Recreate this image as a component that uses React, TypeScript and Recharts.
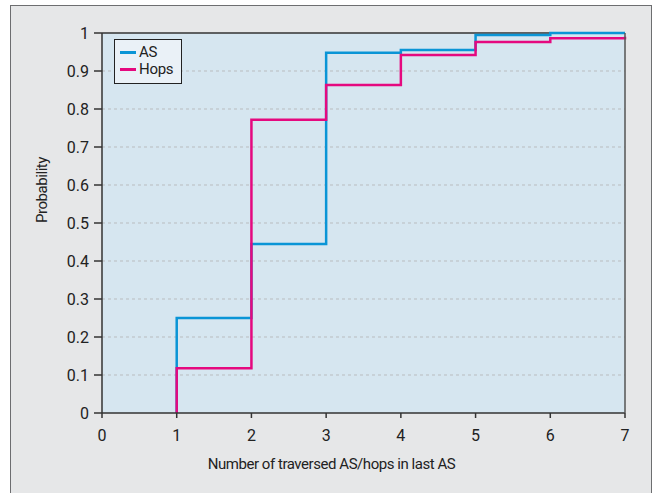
import { LineChart, Line, XAxis, YAxis, CartesianGrid, ReferenceLine } from "recharts"

// step points: x = number of traversed AS / hops, y = cumulative probability
const xSteps = [1, 1, 2, 3, 4, 5, 6, 7]
const asValues = [0, 0.25, 0.445, 0.948, 0.955, 0.995, 1.0, 1.0]
const hopsValues = [0, 0.118, 0.772, 0.863, 0.942, 0.976, 0.986, 0.99]

const xTicks = [0, 1, 2, 3, 4, 5, 6, 7]
const yTicks = [0, 0.1, 0.2, 0.3, 0.4, 0.5, 0.6, 0.7, 0.8, 0.9, 1]

const seriesNames = ["AS", "Hops"]
const seriesColors = ["#0a95d6", "#e5097f"]

const chartData = xSteps.map((x, i) => ({ x, as: asValues[i], hops: hopsValues[i] }))

const font = "Roboto, sans-serif"
const tickStyle = { fill: "#222", fontSize: 16, fontFamily: font }
const labelStyle = { fill: "#222", fontSize: 15, fontFamily: font, letterSpacing: -0.45 }

function LegendBox() {
  return (
    <div
      style={{
        position: "absolute",
        left: 114,
        top: 39,
        width: 68,
        height: 45,
        boxSizing: "border-box",
        background: "#eaf1f7",
        border: "1px solid #222",
        padding: "4px 4px 4px 5px",
        fontFamily: font,
        fontSize: 15,
        letterSpacing: -0.3,
        color: "#222",
        lineHeight: "17px",
      }}
    >
      {seriesNames.map((n, i) => (
        <div key={n} style={{ display: "flex", alignItems: "center", height: 17 }}>
          <span style={{ display: "inline-block", width: 16, height: 3, background: seriesColors[i], marginRight: 3 }} />
          {n}
        </div>
      ))}
    </div>
  )
}

export default function App() {
  return (
    <div style={{ position: "absolute", left: 0, top: 0, width: 659, height: 493, background: "#fff", overflow: "hidden" }}>
      <div
        style={{
          position: "absolute",
          left: 10,
          top: 5,
          width: 640,
          height: 520,
          background: "#e6e7e8",
          border: "1.5px solid #6d6e70",
        }}
      />
      <div style={{ position: "absolute", left: 0, top: 0 }}>
        <LineChart width={659} height={493} data={chartData} margin={{ top: 33, right: 33, bottom: 50, left: 62 }}>
          <CartesianGrid
            vertical={false}
            fill="#d6e6f0"
            stroke="#b9bcbf"
            strokeDasharray="3 3"
            strokeWidth={1}
            horizontalValues={[0.1, 0.2, 0.3, 0.4, 0.5, 0.6, 0.7, 0.8, 0.9]}
          />
          <XAxis
            dataKey="x"
            type="number"
            domain={[0, 7]}
            ticks={xTicks}
            allowDecimals={false}
            height={30}
            stroke="#333"
            strokeWidth={1.5}
            tickSize={5}
            tickMargin={12}
            tick={tickStyle}
            label={{ value: "Number of traversed AS/hops in last AS", position: "insideBottom", offset: -26, dx: -32, ...labelStyle }}
          />
          <YAxis
            type="number"
            domain={[0, 1]}
            ticks={yTicks}
            width={40}
            stroke="#333"
            strokeWidth={1.5}
            tickSize={8}
            tickMargin={5}
            tick={tickStyle}
            label={{ value: "Probability", angle: -90, position: "insideLeft", offset: -20, ...labelStyle }}
          />
          <YAxis
            yAxisId="right"
            orientation="right"
            type="number"
            domain={[0, 1]}
            ticks={yTicks}
            width={1}
            stroke="#555"
            strokeWidth={1.5}
            tickSize={-6}
            tick={false}
          />
          <ReferenceLine y={1} stroke="#333" strokeWidth={1.5} />
          <Line
            type="stepAfter"
            dataKey="as"
            name="AS"
            stroke={seriesColors[0]}
            strokeWidth={2.5}
            dot={false}
            isAnimationActive={false}
          />
          <Line
            type="stepAfter"
            dataKey="hops"
            name="Hops"
            stroke={seriesColors[1]}
            strokeWidth={2.5}
            dot={false}
            isAnimationActive={false}
          />
        </LineChart>
      </div>
      <LegendBox />
    </div>
  )
}
